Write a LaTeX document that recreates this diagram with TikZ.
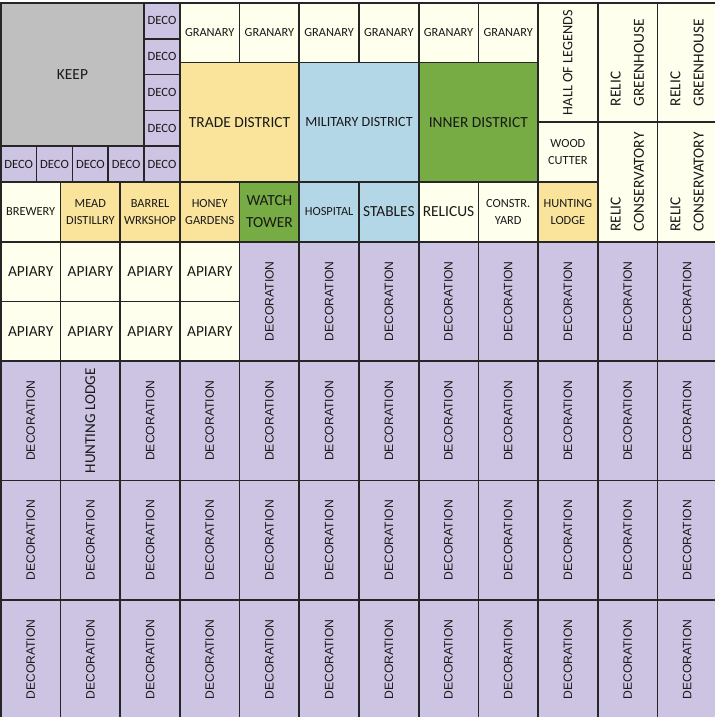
\documentclass[tikz,border=0pt]{standalone}
\usepackage{fontspec}
\setmainfont{Carlito}
\newfontfamily\decofont{Liberation Sans}
\usepackage{xcolor}
\usetikzlibrary{positioning}

\definecolor{keepgray}{RGB}{191,191,191}
\definecolor{decolilac}{RGB}{204,196,226}
\definecolor{creambg}{RGB}{255,255,238}
\definecolor{tanbg}{RGB}{250,228,156}
\definecolor{bluebg}{RGB}{180,215,232}
\definecolor{greenbg}{RGB}{118,172,67}

% rotated text, lines left aligned
\newcommand{\vtext}[1]{\rotatebox{90}{\begin{tabular}{@{}l@{}}#1\end{tabular}}}

\begin{document}
\begin{tikzpicture}[
      cell/.style={draw=black!85, line width=0.8pt, anchor=north west,
                   inner sep=0pt, align=center, text=black!90,
                   minimum width=1cm, minimum height=1cm,
                   font=\fontsize{5.9}{7.95}\selectfont},
      big/.style={font=\fontsize{7.35}{10.5}\selectfont},
      tall/.style={minimum height=2cm},
      wide/.style={minimum width=2cm},
      deco/.style={cell, fill=decolilac, minimum width=0.6cm,
                   minimum height=0.6cm, font=\fontsize{6}{7}\selectfont},
      dcell/.style={cell, tall, fill=decolilac,
                    font=\decofont\fontsize{5.8}{7}\selectfont},
      relic/.style={cell, tall, fill=creambg,
                    font=\fontsize{7.3}{11.1}\selectfont},
  ]
  \useasboundingbox (0,0.035) rectangle (11.977,-11.977);

  %% Keep and its decorations
  \node[cell, fill=keepgray, minimum width=2.4cm, minimum height=2.4cm, big] (keep) at (0,0) {KEEP};
  \foreach \i in {0,...,4}
    \node[deco] (decocol\i) at (2.4,-0.6*\i) {DECO};
  \foreach \i in {0,...,3}
    \node[deco] (decorow\i) at (0.6*\i,-2.4) {DECO};

  %% Granaries
  \foreach \i in {3,...,8}
    \node[cell, fill=creambg] (granary\i) at (\i,0) {GRANARY};

  %% Districts
  \node[cell, wide, tall, fill=tanbg, big] (trade) at (3,-1) {TRADE DISTRICT};
  \node[cell, wide, tall, fill=bluebg, font=\fontsize{6.7}{8}\selectfont] (military) at (5,-1) {MILITARY DISTRICT};
  \node[cell, wide, tall, fill=greenbg, big] (inner) at (7,-1) {INNER DISTRICT};

  %% Right side
  \node[cell, tall, fill=creambg, font=\fontsize{6.8}{8}\selectfont] (hall) at (9,0) {\rotatebox{90}{HALL OF LEGENDS}};
  \node[cell, fill=creambg] (wood) at (9,-2) {WOOD\\CUTTER};
  \foreach \i in {10,11} {
    \node[relic] (greenhouse\i) at (\i,0) {\vtext{RELIC\\GREENHOUSE}};
    \node[relic] (conserv\i) at (\i,-2) {\vtext{RELIC\\CONSERVATORY}};
  }

  %% Building row
  \node[cell, fill=creambg] (brewery) at (0,-3) {BREWERY};
  \node[cell, fill=tanbg] (mead) at (1,-3) {MEAD\\DISTILLRY};
  \node[cell, fill=tanbg] (barrel) at (2,-3) {BARREL\\WRKSHOP};
  \node[cell, fill=tanbg] (honey) at (3,-3) {HONEY\\GARDENS};
  \node[cell, fill=greenbg, big] (watch) at (4,-3) {WATCH\\TOWER};
  \node[cell, fill=bluebg] (hospital) at (5,-3) {HOSPITAL};
  \node[cell, fill=bluebg, big] (stables) at (6,-3) {STABLES};
  \node[cell, fill=creambg, big] (relicus) at (7,-3) {RELICUS};
  \node[cell, fill=creambg] (constr) at (8,-3) {CONSTR.\\YARD};
  \node[cell, fill=tanbg] (hunting) at (9,-3) {HUNTING\\LODGE};

  %% Apiaries
  \foreach \c in {0,...,3}
    \foreach \r in {4,5}
      \node[cell, fill=creambg, big] (apiary\c\r) at (\c,-\r) {APIARY};

  %% Decoration
  \foreach \c in {4,...,11}
    \node[dcell] (decor\c-4) at (\c,-4) {\rotatebox{90}{DECORATION}};
  \foreach \c in {0,2,3,...,11}
    \node[dcell] (decor\c-6) at (\c,-6) {\rotatebox{90}{DECORATION}};
  \node[cell, tall, fill=decolilac, font=\fontsize{7.2}{8}\selectfont] (huntingv) at (1,-6) {\rotatebox{90}{HUNTING LODGE}};
  \foreach \r in {8,10}
    \foreach \c in {0,...,11}
      \node[dcell] (decor\c-\r) at (\c,-\r) {\rotatebox{90}{DECORATION}};

\end{tikzpicture}
\end{document}
